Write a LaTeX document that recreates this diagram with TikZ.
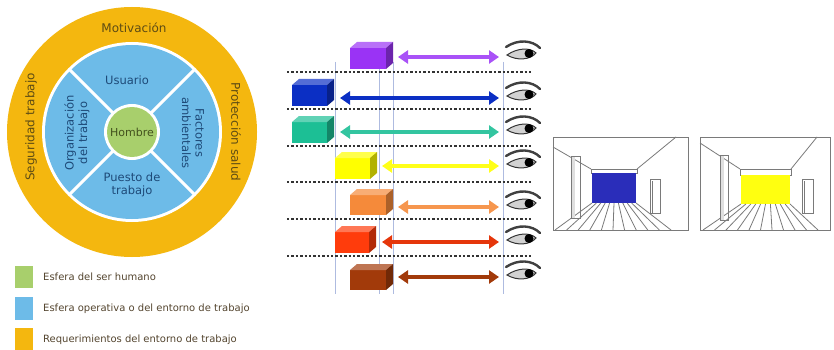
\documentclass[tikz,border=0pt]{standalone}
\usepackage{fontspec}
\setmainfont{DejaVu Sans}
\usetikzlibrary{arrows.meta}

\definecolor{ringyellow}{HTML}{F4B70F}
\definecolor{opblue}{HTML}{6DBBE8}
\definecolor{humangreen}{HTML}{A8CF6C}
\definecolor{ringink}{HTML}{5E4C14}
\definecolor{opink}{HTML}{1E4A78}
\definecolor{humanink}{HTML}{44521E}
\definecolor{legendink}{HTML}{54452F}
\definecolor{guide}{HTML}{AEBBE0}
\definecolor{dotgray}{HTML}{333333}
\definecolor{framegray}{HTML}{7A7A7A}

\definecolor{cpurple}{HTML}{9A33F5}
\definecolor{cblue}{HTML}{0B2FC4}
\definecolor{cteal}{HTML}{1CBF95}
\definecolor{cyellow}{HTML}{FFFF00}
\definecolor{corange}{HTML}{F58A3A}
\definecolor{cred}{HTML}{FF3C0C}
\definecolor{cbrown}{HTML}{A23A0A}

\definecolor{wallblue}{HTML}{2A2DBA}
\definecolor{wallyellow}{HTML}{FFFF10}

\tikzset{
  ringtext/.style={text=ringink,font=\fontsize{12}{13}\selectfont,inner sep=0pt},
  optext/.style={text=opink,font=\fontsize{11.5}{13.5}\selectfont,inner sep=0pt,align=center},
  humantext/.style={text=humanink,font=\fontsize{11}{12}\selectfont,inner sep=0pt},
  legendtext/.style={text=legendink,font=\fontsize{10}{12}\selectfont,anchor=west,inner sep=0pt},
  guideline/.style={guide,line width=0.7pt},
  dotline/.style={dotgray,line width=2.8pt,dash pattern=on 2.4pt off 2pt},
  dblarrow/.style={line width=3.4pt,{Triangle[length=10pt,width=13pt]}-{Triangle[length=10pt,width=13pt]}},
  roomline/.style={framegray,line width=0.8pt},
  eye/.pic={
    \draw[line width=2.4pt,gray!50!black,line cap=round]
      (-16,-6) .. controls (-4,-14) and (10,-13) .. (18,-5);
    \filldraw[fill=gray!35,draw=gray!40!black,line width=1pt]
      (-15,2) .. controls (-5,-5) and (8,-6) .. (14,0)
      .. controls (8,7) and (-5,8) .. (-15,2) -- cycle;
    \fill[black] (7,0.5) circle[radius=4.5];
  }
}

% a shaded box seen slightly from above and the right
\newcommand\slabbox[5]{%
  \fill[#5] (#1,#2) rectangle (#3,#4);
  \fill[#5!70!white] (#1,#2) -- (#1+7,#2-6) -- (#3+7,#2-6) -- (#3,#2) -- cycle;
  \fill[#5!70!black] (#3,#2) -- (#3+7,#2-6) -- (#3+7,#4-6) -- (#3,#4) -- cycle;
}

\begin{document}
\begin{tikzpicture}[x=1pt,y=-1pt]
\useasboundingbox (0,0) rectangle (834,350);
\fill[white] (0,0) rectangle (834,350);

% ---------- concentric spheres ----------
\fill[ringyellow] (132,132) circle[radius=125];
\fill[white] (132,132) circle[radius=90];
\fill[opblue] (132,132) circle[radius=87];
\foreach \a in {45,135,225,315}
  \draw[white,line width=3pt] (132,132) -- ++(\a:89);
\fill[white] (132,132) circle[radius=28];
\fill[humangreen] (132,132) circle[radius=25];

\node[ringtext] (mot) at (134,28) {Motivación};
\node[ringtext,rotate=90] (seg) at (31,127) {Seguridad trabajo};
\node[ringtext,rotate=-90] (prot) at (236,132) {Protección salud};
\node[optext] (usu) at (127,80) {Usuario};
\node[optext,rotate=90] (org) at (77,133) {Organización\\del trabajo};
\node[optext,rotate=-90] (fac) at (193,133) {Factores\\ambientales};
\node[optext] (pue) at (132,185) {Puesto de\\trabajo};
\node[humantext] (hom) at (132,132) {Hombre};

% ---------- legend ----------
\fill[humangreen] (15,266) rectangle (33,288);
\fill[opblue] (15,297) rectangle (33,320);
\fill[ringyellow] (15,328) rectangle (33,350);
\node[legendtext] (lg1) at (43,277) {Esfera del ser humano};
\node[legendtext] (lg2) at (43,309) {Esfera operativa o del entorno de trabajo};
\node[legendtext] (lg3) at (43,340) {Requerimientos del entorno de trabajo};

% ---------- viewing distances ----------
\foreach \gx in {335,379,393,503}
  \draw[guideline] (\gx,62) -- (\gx,294);

\foreach \dy in {72,109,146,182,219,256}
  \draw[dotline] (287,\dy) -- (532,\dy);

\slabbox{350}{48}{386}{69}{cpurple}
\slabbox{292}{85}{327}{106}{cblue}
\slabbox{292}{122}{327}{143}{cteal}
\slabbox{335}{158}{370}{179}{cyellow}
\slabbox{350}{195}{386}{215}{corange}
\slabbox{335}{232}{369}{253}{cred}
\slabbox{350}{270}{386}{290}{cbrown}

\coordinate (a1l) at (398,57);  \coordinate (a1r) at (499,57);
\coordinate (a2l) at (340,98);  \coordinate (a2r) at (499,98);
\coordinate (a3l) at (340,132); \coordinate (a3r) at (499,132);
\coordinate (a4l) at (382,166); \coordinate (a4r) at (499,166);
\coordinate (a5l) at (398,207); \coordinate (a5r) at (499,207);
\coordinate (a6l) at (382,242); \coordinate (a6r) at (499,242);
\coordinate (a7l) at (398,277); \coordinate (a7r) at (499,277);

\draw[dblarrow,cpurple!85!white] (a1l) -- (a1r);
\draw[dblarrow,cblue] (a2l) -- (a2r);
\draw[dblarrow,cteal!90!white] (a3l) -- (a3r);
\draw[dblarrow,cyellow!90!white] (a4l) -- (a4r);
\draw[dblarrow,corange!90!white] (a5l) -- (a5r);
\draw[dblarrow,cred!90!black] (a6l) -- (a6r);
\draw[dblarrow,cbrown] (a7l) -- (a7r);

\foreach \ey in {53,94,128,162,203,238,273}
  \pic at (522,\ey) {eye};

% ---------- room with blue back wall ----------
\draw[roomline] (553,137) rectangle (688,230);
\draw[roomline] (553,147) -- (591,169);
\draw[roomline] (676,137) -- (637,169);
\draw[roomline,fill=white] (591,169) rectangle (637,173);
\fill[wallblue] (592,173) rectangle (636,203);
\foreach \i in {0,...,10}
  \draw[roomline] ({592+\i*4.4},203) -- ({555+\i*11.6},230);
\fill[gray!25] (571,156) rectangle (575,218);
\draw[roomline] (571,156) rectangle (580,218);
\draw[roomline] (650,179) rectangle (660,213);
\draw[roomline] (652,181) -- (652,213);

% ---------- room with yellow back wall ----------
\draw[roomline] (700,137) rectangle (830,230);
\draw[roomline] (700,143) -- (740,169);
\draw[roomline] (817,137) -- (791,169);
\draw[roomline,fill=white] (740,169) rectangle (791,175);
\fill[wallyellow] (741,175) rectangle (790,204);
\foreach \i in {0,...,10}
  \draw[roomline] ({741+\i*4.9},204) -- ({703+\i*11.5},230);
\fill[gray!25] (720,155) rectangle (724,220);
\draw[roomline] (720,155) rectangle (728,220);
\draw[roomline] (802,179) rectangle (813,213);
\draw[roomline] (804,181) -- (804,213);
\end{tikzpicture}
\end{document}
